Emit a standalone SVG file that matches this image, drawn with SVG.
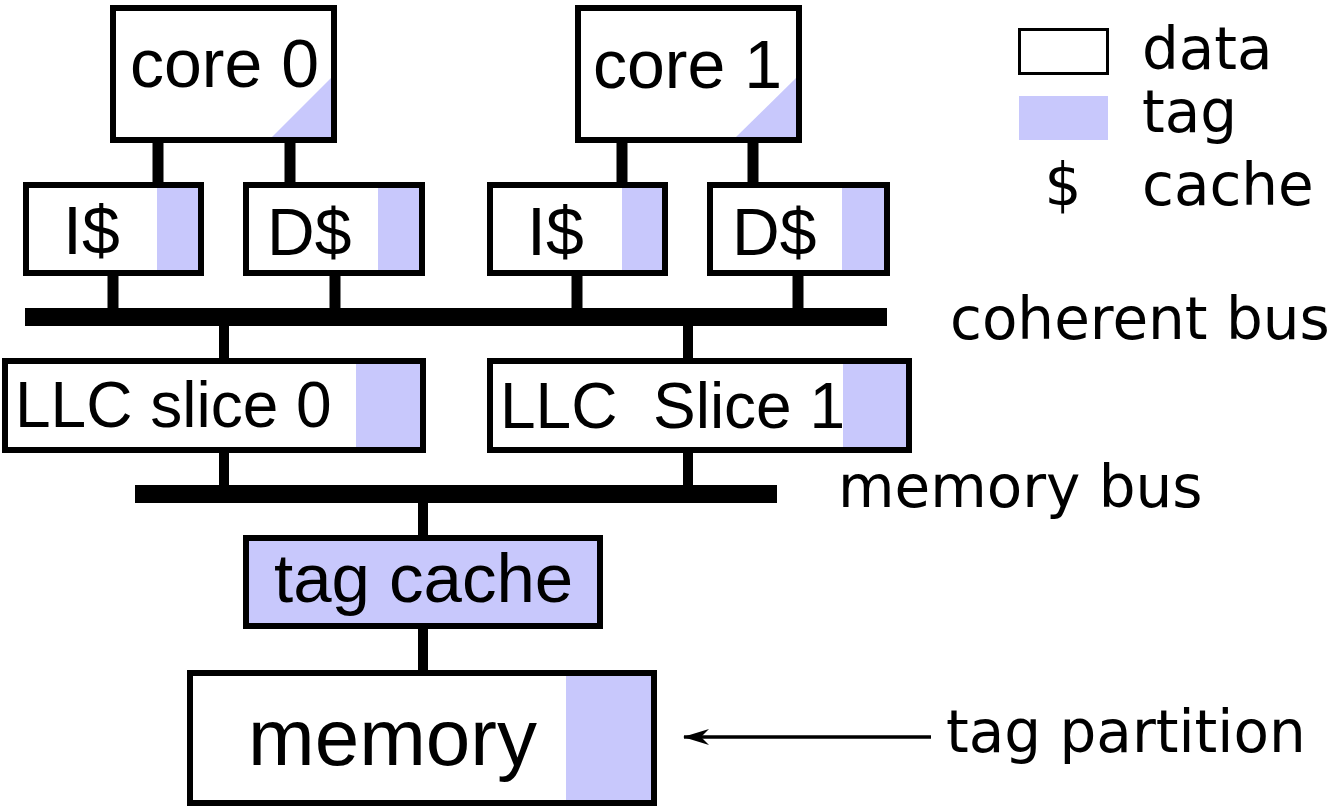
<svg xmlns="http://www.w3.org/2000/svg" width="1333" height="808" viewBox="0 0 1333 808">
<style>
.box{fill:#fff;stroke:#000;stroke-width:6}
.tag{fill:#c8c8fc;stroke:none}
.lbl{font-family:"Liberation Sans",Arial,sans-serif;fill:#000}
.side{font-family:"DejaVu Sans",sans-serif;font-size:58px;fill:#000}
.wire{stroke:#000;stroke-width:11;fill:none}
.bus{fill:#000}
</style>
<defs>
<marker id="arr" viewBox="0 0 26 16" refX="25" refY="8" markerWidth="26" markerHeight="16" markerUnits="userSpaceOnUse" orient="auto">
<path d="M26,8 L0,0 L8,8 L0,16 Z" fill="#000"/>
</marker>
</defs>
<rect width="1333" height="808" fill="#fff"/>

<g id="connectors">
<line class="wire" x1="158" y1="140" x2="158" y2="185"/>
<line class="wire" x1="290" y1="140" x2="290" y2="185"/>
<line class="wire" x1="622" y1="140" x2="622" y2="185"/>
<line class="wire" x1="753" y1="140" x2="753" y2="185"/>
<line class="wire" x1="113" y1="273" x2="113" y2="310"/>
<line class="wire" x1="335" y1="273" x2="335" y2="310"/>
<line class="wire" x1="577" y1="273" x2="577" y2="310"/>
<line class="wire" x1="798" y1="273" x2="798" y2="310"/>
<rect id="coherent-bus" class="bus" x="25" y="308" width="862" height="18"/>
<line class="wire" x1="224" y1="325" x2="224" y2="361" style="stroke-width:10"/>
<line class="wire" x1="688" y1="325" x2="688" y2="361" style="stroke-width:10"/>
<line class="wire" x1="224" y1="450" x2="224" y2="487" style="stroke-width:10"/>
<line class="wire" x1="688" y1="450" x2="688" y2="487" style="stroke-width:10"/>
<rect id="memory-bus" class="bus" x="135" y="485" width="642" height="18"/>
<line class="wire" x1="423" y1="502" x2="423" y2="538" style="stroke-width:10"/>
<line class="wire" x1="423" y1="626" x2="423" y2="673" style="stroke-width:10"/>
<line x1="931" y1="737" x2="684" y2="737" stroke="#000" stroke-width="3.5" marker-end="url(#arr)"/>
</g>

<g id="core0">
<rect class="box" x="113" y="8" width="221" height="132"/>
<polygon class="tag" points="272,137 331,137 331,78"/>
<text class="lbl" x="130" y="87" font-size="68">core 0</text>
</g>
<g id="core1">
<rect class="box" x="578" y="8" width="221" height="132"/>
<polygon class="tag" points="736,137 796,137 796,78"/>
<text class="lbl" x="593" y="88" font-size="68">core 1</text>
</g>

<g id="icache0">
<rect class="box" x="26" y="185" width="175" height="88"/>
<rect class="tag" x="157" y="188" width="41" height="82"/>
<text class="lbl" x="63" y="254" font-size="68">I$</text>
</g>
<g id="dcache0">
<rect class="box" x="246" y="185" width="176" height="88"/>
<rect class="tag" x="378" y="188" width="41" height="82"/>
<text class="lbl" x="267" y="255" font-size="66">D$</text>
</g>
<g id="icache1">
<rect class="box" x="490" y="185" width="175" height="88"/>
<rect class="tag" x="622" y="188" width="40" height="82"/>
<text class="lbl" x="527" y="255" font-size="68">I$</text>
</g>
<g id="dcache1">
<rect class="box" x="710" y="185" width="177" height="88"/>
<rect class="tag" x="842" y="188" width="42" height="82"/>
<text class="lbl" x="732" y="255" font-size="66">D$</text>
</g>

<g id="llc0">
<rect class="box" x="5" y="361" width="418" height="89"/>
<rect class="tag" x="356" y="364" width="64" height="83"/>
<text class="lbl" x="15" y="427" font-size="64">LLC slice 0</text>
</g>
<g id="llc1">
<rect class="box" x="490" y="361" width="419" height="89"/>
<rect class="tag" x="843" y="364" width="63" height="83"/>
<text class="lbl" x="500" y="428" font-size="64" xml:space="preserve">LLC  Slice 1</text>
</g>

<g id="tag-cache">
<rect class="box" x="246" y="538" width="354" height="88" style="fill:#c8c8fc"/>
<text class="lbl" x="274" y="602" font-size="69">tag cache</text>
</g>

<g id="memory">
<rect class="box" x="190" y="673" width="464" height="130"/>
<rect class="tag" x="566" y="676" width="85" height="124"/>
<text class="lbl" x="248" y="765" font-size="80">memory</text>
</g>

<g id="labels">
<text class="side" x="950" y="339">coherent bus</text>
<text class="side" x="838" y="507">memory bus</text>
<text class="side" x="946" y="752">tag partition</text>
</g>

<g id="legend">
<rect x="1019.5" y="29.5" width="88" height="44" fill="#fff" stroke="#000" stroke-width="3"/>
<text class="side" x="1142" y="69">data</text>
<rect class="tag" x="1019" y="96" width="89" height="44"/>
<text class="side" x="1142" y="132">tag</text>
<text class="side" x="1063" y="205" text-anchor="middle">$</text>
<text class="side" x="1142" y="205">cache</text>
</g>
</svg>
